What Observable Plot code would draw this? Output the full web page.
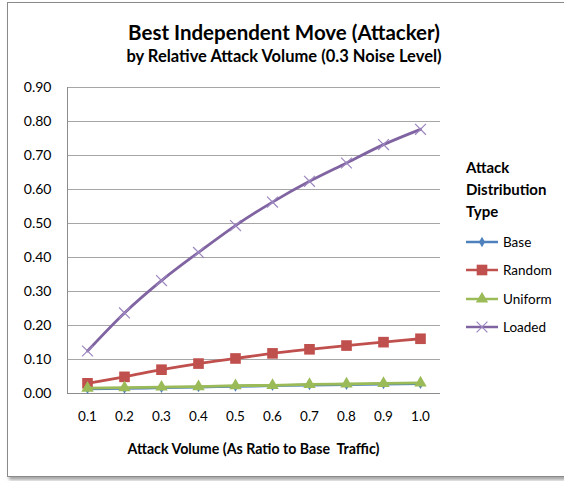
<!DOCTYPE html>
<html>
<head>
<meta charset="utf-8">
<script src="https://cdn.jsdelivr.net/npm/d3@7"></script>
<script src="https://cdn.jsdelivr.net/npm/@observablehq/plot@0.6"></script>
<style>
  body { margin: 0; background: #fff; }
  #chart { position: relative; width: 564px; height: 481px; overflow: hidden; font-family: Lato, "Open Sans", sans-serif; color: #000; }
  .frame { position: absolute; left: 7px; top: 2px; width: 620px; height: 473px; border: 1px solid #8a8a8a; box-shadow: 2px 3px 3px rgba(0,0,0,0.35); }
  #plot { position: absolute; left: 0; top: 0; }
  .title { position: absolute; left: 0; width: 568px; text-align: center; font-weight: 700; white-space: nowrap; line-height: 1; }
  .t1 { top: 22px; font-size: 20.5px; }
  .t2 { top: 48px; font-size: 16.5px; }
  .xtitle { position: absolute; top: 442px; left: 67px; width: 373px; text-align: center; font-weight: 700; font-size: 14.2px; line-height: 1; }
  .legend { position: absolute; left: 466px; top: 156px; }
  .legend .head { font-weight: 700; font-size: 15px; line-height: 22px; margin-bottom: 6px; }
  .legend .row { display: flex; align-items: center; height: 28.3px; font-size: 13.5px; }
  .legend svg { margin-right: 3px; }
</style>
</head>
<body>
<div id="chart">
  <div class="frame"></div>
  <div id="plot"></div>
  <div class="title t1">Best Independent Move (Attacker)</div>
  <div class="title t2">by Relative Attack Volume (0.3 Noise Level)</div>
  <div class="xtitle">Attack Volume (As Ratio to Base&nbsp; Traffic)</div>
  <div class="legend" id="legend"></div>
</div>
<script>
// Attack volume categories (ratio to base traffic)
const volumes = ["0.1", "0.2", "0.3", "0.4", "0.5", "0.6", "0.7", "0.8", "0.9", "1.0"];

// Best independent move value per attack distribution type
const baseValues    = [0.014, 0.015, 0.017, 0.019, 0.021, 0.023, 0.025, 0.026, 0.028, 0.029];
const randomValues  = [0.030, 0.049, 0.070, 0.088, 0.103, 0.118, 0.130, 0.141, 0.151, 0.161];
const uniformValues = [0.016, 0.017, 0.019, 0.020, 0.023, 0.024, 0.027, 0.028, 0.030, 0.031];
const loadedValues  = [0.125, 0.237, 0.332, 0.415, 0.494, 0.563, 0.624, 0.678, 0.732, 0.777];

const yTicks = [0, 0.1, 0.2, 0.3, 0.4, 0.5, 0.6, 0.7, 0.8, 0.9];

const series = [
  {name: "Base",    values: baseValues,    color: "#4F81BD", symbol: "diamond",  r: 3.2},
  {name: "Random",  values: randomValues,  color: "#C0504D", symbol: "square",   r: 6},
  {name: "Uniform", values: uniformValues, color: "#9BBB59", symbol: "triangle", r: 4.6},
  {name: "Loaded",  values: loadedValues,  color: "#8064A2", symbol: "times",    r: 5}
];

const rows = s => volumes.map((v, i) => ({volume: v, value: s.values[i]}));

const marks = [
  Plot.gridY(yTicks, {stroke: "#a6a6a6", strokeOpacity: 1}),
  Plot.frame({anchor: "left", stroke: "#8c8c8c"}),
  Plot.ruleY([0], {stroke: "#8c8c8c"}),
  Plot.axisY({ticks: yTicks, tickFormat: d3.format(".2f"), tickSize: 0, tickPadding: 16, fontSize: 14, label: null}),
  Plot.axisX({tickSize: 0, tickPadding: 18, fontSize: 13.5, label: null})
];

// Draw order: Loaded, Random, Base, Uniform (uniform on top)
for (const s of [series[3], series[1], series[0], series[2]]) {
  const data = rows(s);
  marks.push(Plot.line(data, {x: "volume", y: "value", stroke: s.color, strokeWidth: 2.8, curve: "monotone-x"}));
  if (s.symbol === "times") {
    marks.push(Plot.dot(data, {x: "volume", y: "value", symbol: "times", r: s.r, stroke: "#9c86bf", strokeWidth: 1.2}));
  } else {
    marks.push(Plot.dot(data, {x: "volume", y: "value", symbol: s.symbol, r: s.r, fill: s.color, stroke: "none"}));
  }
}

const chart = Plot.plot({
  width: 564,
  height: 481,
  marginLeft: 67,
  marginRight: 124,
  marginTop: 87,
  marginBottom: 88,
  style: {background: "transparent", fontFamily: "Lato, 'Open Sans', sans-serif", color: "#000"},
  x: {type: "point", domain: volumes, padding: 0.5},
  y: {domain: [0, 0.9]},
  marks
});
document.getElementById("plot").appendChild(chart);

// Legend
const legend = document.getElementById("legend");
const head = document.createElement("div");
head.className = "head";
head.innerHTML = "Attack<br>Distribution<br>Type";
legend.appendChild(head);
const symbolTypes = {diamond: d3.symbolDiamond, square: d3.symbolSquare, triangle: d3.symbolTriangle, times: d3.symbolTimes};
for (const s of series) {
  const row = document.createElement("div");
  row.className = "row";
  const svg = d3.create("svg").attr("width", 34).attr("height", 14);
  svg.append("line").attr("x1", 0).attr("x2", 32).attr("y1", 7).attr("y2", 7)
    .attr("stroke", s.color).attr("stroke-width", 2.5);
  const p = svg.append("path")
    .attr("transform", "translate(16,7)")
    .attr("d", d3.symbol(symbolTypes[s.symbol], Math.PI * s.r * s.r)());
  if (s.symbol === "times") p.attr("fill", "none").attr("stroke", "#9c86bf").attr("stroke-width", 1.2);
  else p.attr("fill", s.color);
  row.appendChild(svg.node());
  const label = document.createElement("span");
  label.textContent = s.name;
  row.appendChild(label);
  legend.appendChild(row);
}
</script>
</body>
</html>
